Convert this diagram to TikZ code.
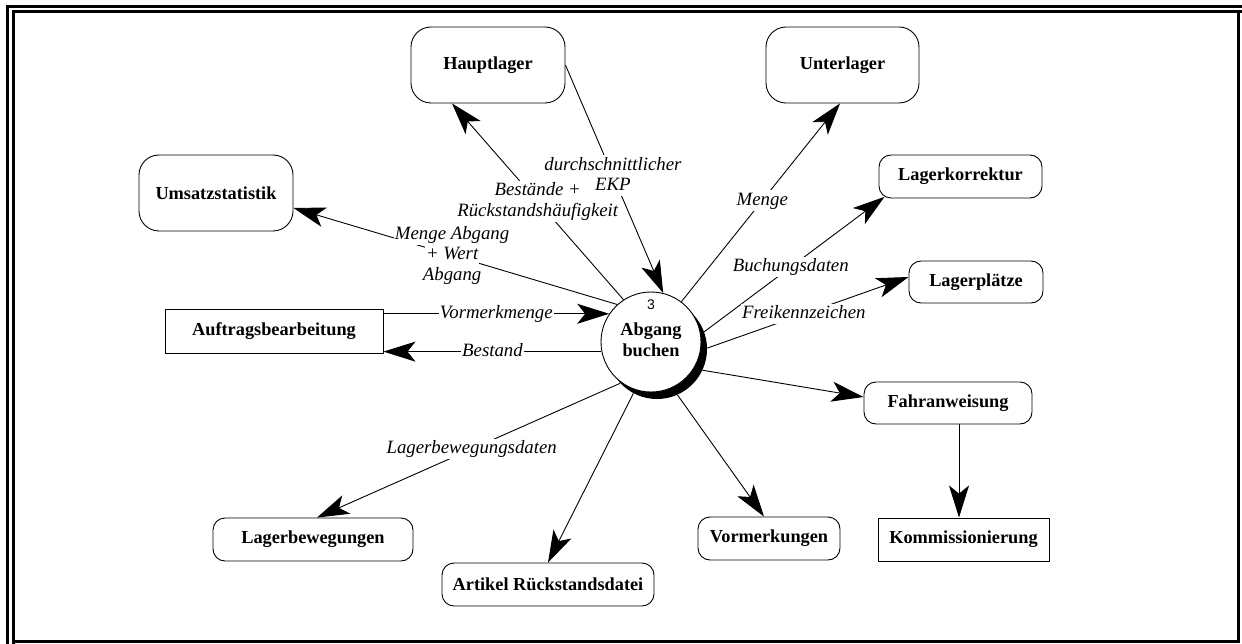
\documentclass[tikz,border=0pt]{standalone}
\usepackage{fontspec}
\setmainfont{Liberation Serif}
\newfontfamily\numfont{Liberation Sans}
\usetikzlibrary{arrows.meta}

% white background behind each row of a flow label, exactly one line high
\newcommand\wb[1]{{\fboxsep=0pt\colorbox{white}{\hspace{1pt}\rule[-5.8pt]{0pt}{20.5pt}#1\hspace{1pt}}}}

\begin{document}
\begin{tikzpicture}[x=1pt,y=-1pt,
  boxfont/.style={font=\fontsize{18.3}{20.5}\selectfont\bfseries},
  store/.style={draw, line width=.9pt, rounded corners=12pt, minimum height=43pt,
    inner sep=0pt, boxfont},
  bigstore/.style={store, rounded corners=20pt, minimum height=76pt},
  extbox/.style={draw, line width=.9pt, minimum height=44pt, inner sep=0pt, boxfont},
  flow/.style={draw, line width=.9pt, -{Stealth[length=32pt,width=20pt,inset=8pt]}},
  lbl/.style={inner sep=0pt, align=center, font=\fontsize{18.8}{20.5}\selectfont\itshape},
]
\useasboundingbox (0,0) rectangle (1242,644);

% double frame
\begin{scope}[line width=3pt]
  \draw (7.5,5) -- (7.5,644);
  \draw (6,6.5) -- (1242,6.5);
  \draw (13.5,10) -- (13.5,644);
  \draw (12,11.5) -- (1242,11.5);
  \draw (1238.5,11.5) -- (1238.5,643);
  \draw (12,641.5) -- (1240,641.5);
\end{scope}

% process bubble with its shadow
\node[circle, fill=black, minimum size=100pt, inner sep=0pt] (sh) at (657,349) {};
\node[circle, draw, fill=white, line width=.9pt, minimum size=100pt, inner sep=0pt] (c) at (651,342) {};
\node[font=\numfont\fontsize{14}{15}\selectfont, inner sep=0pt] (num) at (651,304.5) {3};
\node[boxfont, align=center, inner sep=0pt] (ctext) at (651,340) {Abgang\\buchen};

% data stores and external entities
\node[bigstore, minimum width=154pt] (haupt) at (488,65) {Hauptlager};
\node[bigstore, minimum width=153pt] (unter) at (842.5,65) {Unterlager};
\node[bigstore, minimum width=154pt] (umsatz) at (216,193) {Umsatzstatistik};
\node[store, minimum width=163pt] (lk) at (960.5,176.5) {Lagerkorrektur};
\node[store, minimum width=134pt, minimum height=42pt] (lp) at (976,282) {Lagerplätze};
\node[extbox, minimum width=218pt] (auf) at (274,331) {Auftragsbearbeitung};
\node[store, minimum width=168pt, minimum height=42pt] (fa) at (948,403) {Fahranweisung};
\node[extbox, minimum width=171pt, minimum height=43pt] (km) at (963.5,539.5) {Kommissionierung};
\node[store, minimum width=142pt] (vm) at (769,538.5) {Vormerkungen};
\node[store, minimum width=212pt] (ar) at (548,584.5) {Artikel Rückstandsdatei};
\node[store, minimum width=200pt] (lb) at (313,539.5) {Lagerbewegungen};

% data flows
\draw[flow] (c.123) -- node[lbl, pos=.5] {\wb{Bestände +}\\\wb{Rückstandshäufigkeit}} ([xshift=-36pt]haupt.south);
\draw[flow] (haupt.east) -- node[lbl, pos=.486] {\wb{durchschnittlicher}\\\wb{EKP}} (c.76);
\draw[flow] (c.53) -- node[lbl, pos=.51] {\wb{Menge}} ([xshift=-2.5pt]unter.south);
\draw[flow] (c.132) -- node[lbl, pos=.51] {\wb{Menge Abgang}\\\wb{+ Wert}\\\wb{Abgang}} ([yshift=-15pt]umsatz.east);
\draw[flow] (auf.east |- c.146) -- node[lbl, pos=.5] {\wb{Vormerkmenge}} (c.146);
\draw[flow] (c.191.5) -- node[lbl, pos=.5] {\wb{Bestand}} (c.191.5 -| auf.east);
\draw[flow] (sh.20) -- node[lbl, pos=.48] {\wb{Buchungsdaten}} ([shift={(6pt,1.6pt)}]lk.south west);
\draw[flow] (sh.1) -- node[lbl, pos=.48] {\wb{Freikennzeichen}} ([yshift=5pt]lp.west);
\draw[flow] (sh.-25) -- ([yshift=6pt]fa.west);
\draw[flow] ([xshift=11pt]fa.south) -- ([xshift=11pt]fa.south |- km.north);
\draw[flow] (sh.-66) -- ([xshift=-5pt]vm.north);
\draw[flow] (sh.-118) -- (ar.north);
\draw[flow] (sh.-137) -- node[lbl, pos=.49] {\wb{Lagerbewegungsdaten}} ([xshift=4pt]lb.north);
\end{tikzpicture}
\end{document}
